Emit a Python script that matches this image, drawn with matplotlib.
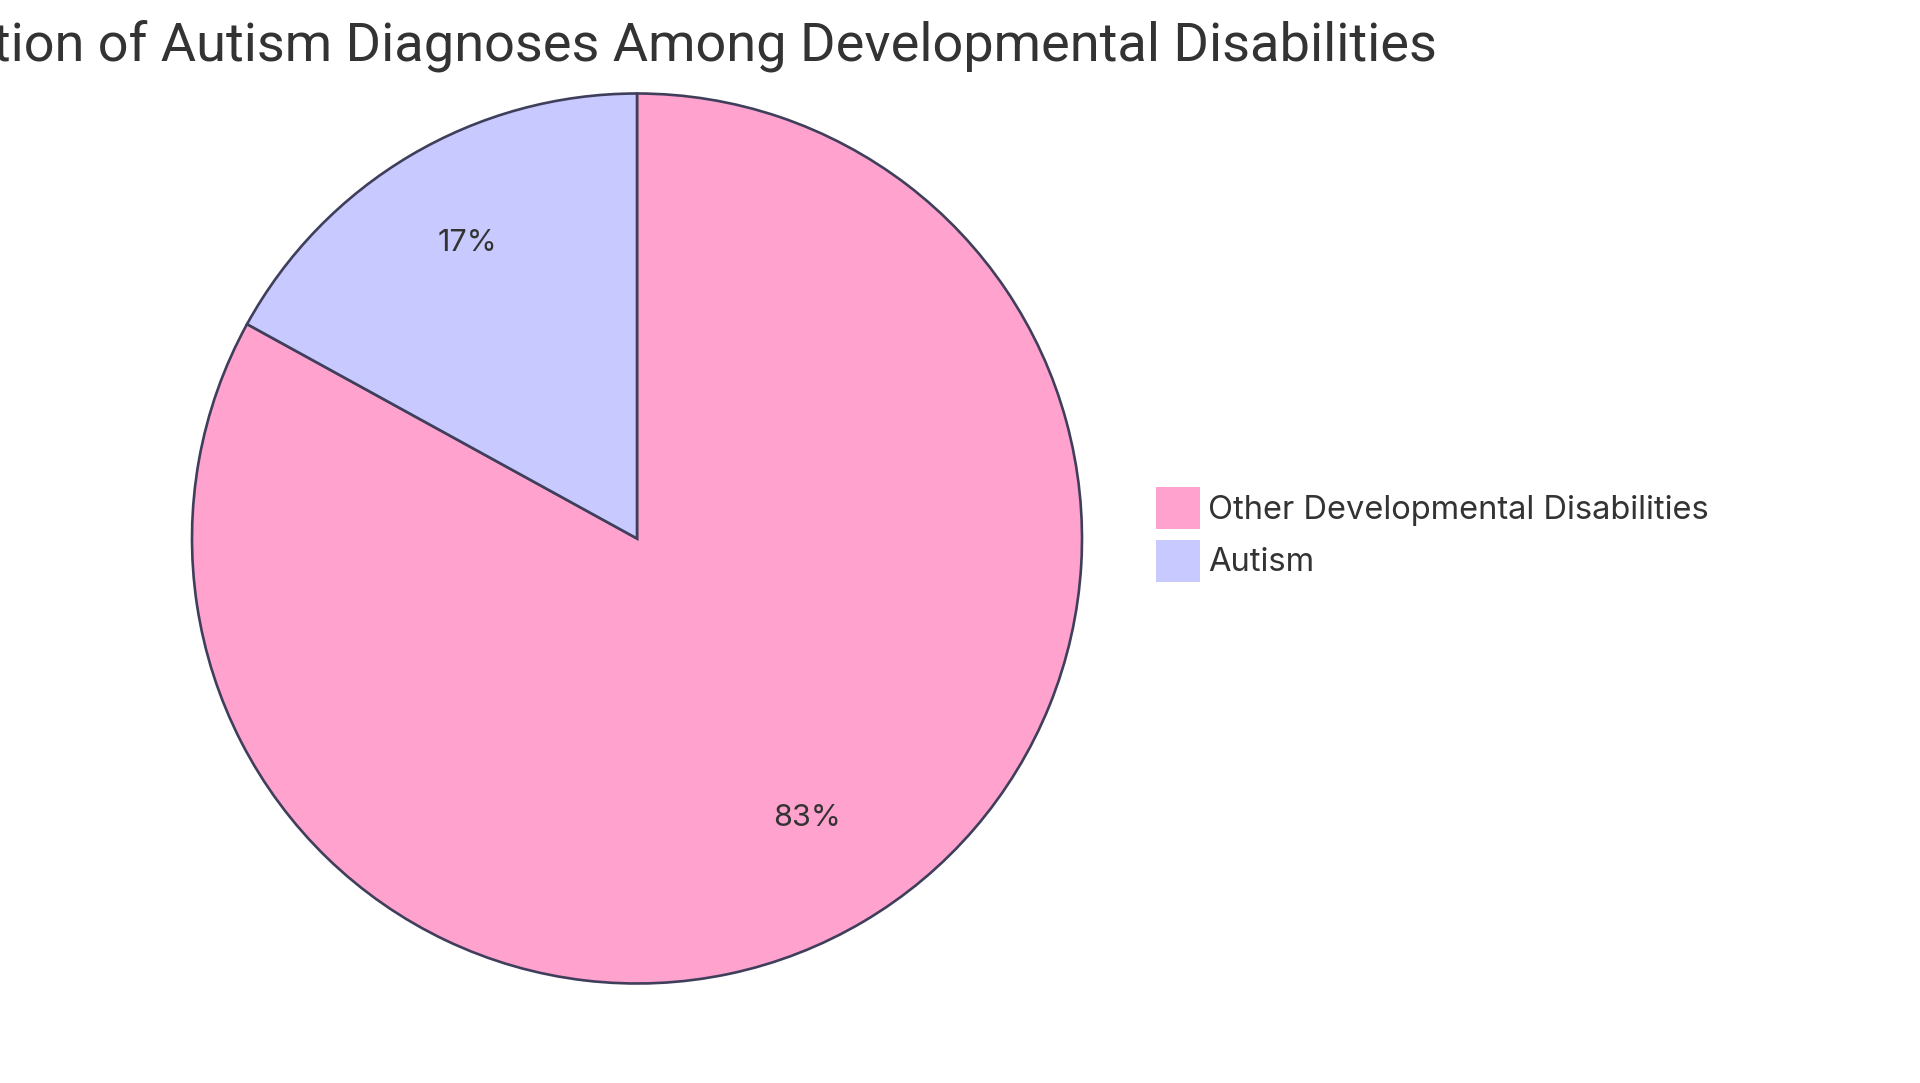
import matplotlib
matplotlib.use("Agg")
import matplotlib.pyplot as plt
from matplotlib.patches import Patch

# data
labels = ["Other Developmental Disabilities", "Autism"]
values = [83, 17]
colors = ["#FFA3CE", "#C8CAFF"]
title = "Proportion of Autism Diagnoses Among Developmental Disabilities"

W, H = 1920, 1083
plt.rcParams['font.family'] = ['Inter', 'DejaVu Sans']
text_color = "#333333"
edge = "#3F3F5C"

fig = plt.figure(figsize=(W / 100, H / 100), dpi=100)
fig.patch.set_facecolor("white")

# pie axes: centre (637, 538) px, radius 445 px
cx, cy, r = 637, 538.5, 445
ax = fig.add_axes([(cx - r) / W, (H - cy - r) / H, 2 * r / W, 2 * r / H])
wedges, texts, autotexts = ax.pie(
    values, colors=colors, startangle=90, counterclock=False,
    autopct="%1.0f%%", pctdistance=0.75, radius=1,
    wedgeprops=dict(edgecolor=edge, linewidth=1.9),
    textprops=dict(color=text_color, fontsize=22),
)
# nudge the percentage labels up a few pixels
for t in autotexts:
    x, y = t.get_position()
    t.set_position((x, y + 8 / r))
ax.set_xlim(-1, 1)
ax.set_ylim(-1, 1)
ax.set_aspect("equal")
ax.axis("off")

fig.text(1437 / W, 1 - 61 / H, title, ha="right", va="baseline",
         fontsize=39, color=text_color, family=['Roboto', 'DejaVu Sans'])

handles = [Patch(facecolor=c, edgecolor="none") for c in colors]
fs = 23.5
fig.legend(handles, labels, loc="upper left",
           bbox_to_anchor=(1156 / W, 1 - 487 / H),
           frameon=False, fontsize=fs, labelcolor=text_color,
           handlelength=1.35, handleheight=1.6, handletextpad=0.25,
           labelspacing=0.33, borderpad=0, borderaxespad=0)

fig.savefig("out.png", dpi=100)
